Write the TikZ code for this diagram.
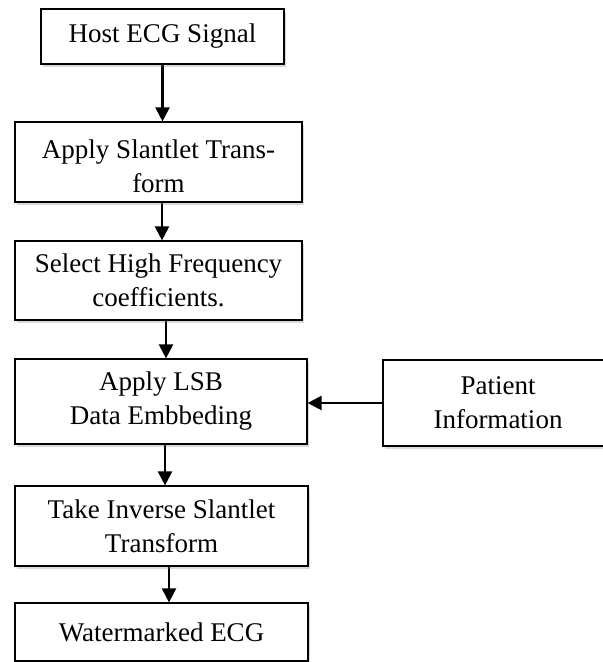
\documentclass[tikz,border=0pt]{standalone}
\usepackage{fontspec}
\setmainfont{Liberation Serif}
\usetikzlibrary{arrows.meta,shadows}
\pgfdeclarelayer{bg}
\pgfsetlayers{bg,main}
\newcommand{\lowtext}{\rule{0pt}{27pt}}

\tikzset{
  stepbox/.style={draw, line width=1.2pt, fill=white, align=center,
    inner sep=0pt, font=\fontsize{27}{34}\selectfont,
    drop shadow={shadow xshift=2pt, shadow yshift=-2.5pt, opacity=0.3}},
  flow/.style={line width=2.2pt, -{Triangle[width=14pt,length=14pt]}}
}

\begin{document}
\begin{tikzpicture}
        \useasboundingbox (0pt,0pt) rectangle (603pt,-662pt);
        \node (v0) [stepbox, minimum width=243pt, minimum height=55pt] at (162.5pt, -36.5pt) {Host ECG Signal};
        \node (v1) [stepbox, minimum width=287pt, minimum height=80pt] at (158.5pt, -162pt) {\lowtext Apply Slantlet Trans-\\form};
        \node (v2) [stepbox, minimum width=287pt, minimum height=79pt] at (158.5pt, -280.5pt) {Select High Frequency\\coefficients.};
        \node (v3) [stepbox, minimum width=292pt, minimum height=85pt] at (161pt, -401.5pt) {Apply LSB\\Data Embbeding};
        \node (v4) [stepbox, minimum width=230pt, minimum height=86pt] at (498pt, -403pt) {Patient\\Information};
        \node (v5) [stepbox, minimum width=293pt, minimum height=80pt] at (161.5pt, -526pt) {Take Inverse Slantlet\\Transform};
        \node (v6) [stepbox, minimum width=293pt, minimum height=58pt] at (161.5pt, -632pt) {Watermarked ECG};
        \begin{pgfonlayer}{bg}
                \draw [flow] (v0.south) -- (v0.south |- v1.north);
                \draw [flow] ([xshift=3.5pt]v1.south) -- ([xshift=3.5pt]v1.south |- v2.north);
                \draw [flow] ([xshift=7.5pt]v2.south) -- ([xshift=7.5pt]v2.south |- v3.north);
                \draw [flow] (v4.west) -- (v4.west -| v3.east);
                \draw [flow] ([xshift=4pt]v3.south) -- ([xshift=4pt]v3.south |- v5.north);
                \draw [flow] ([xshift=7.5pt]v5.south) -- ([xshift=7.5pt]v5.south |- v6.north);
        \end{pgfonlayer}
\end{tikzpicture}
\end{document}
